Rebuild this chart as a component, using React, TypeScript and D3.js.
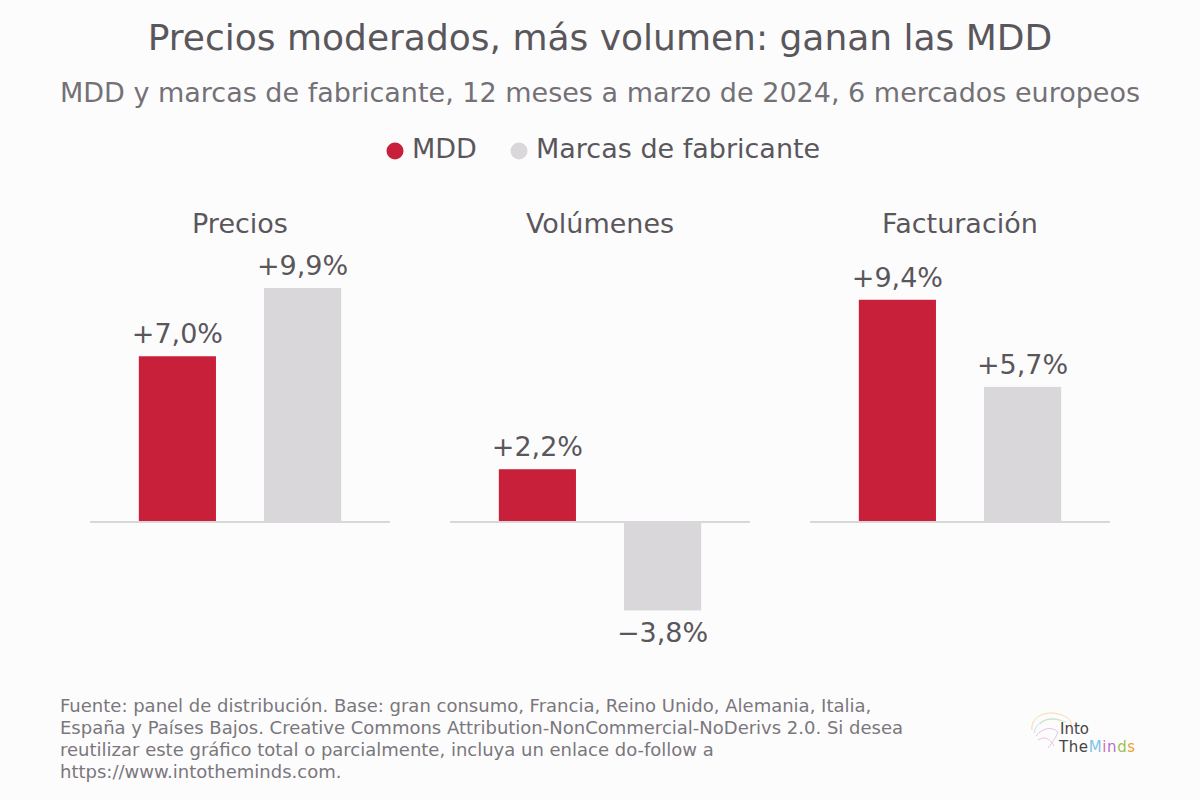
import React from "react";
import * as d3 from "d3";

const panels = ["Precios", "Volúmenes", "Facturación"];
const seriesNames = ["MDD", "Marcas de fabricante"];
const mddValues = [7.0, 2.2, 9.4];
const brandValues = [9.9, -3.8, 5.7];
const valueLabels = [
  ["+7,0%", "+9,9%"],
  ["+2,2%", "−3,8%"],
  ["+9,4%", "+5,7%"],
];
const footerLines = [
  "Fuente: panel de distribución. Base: gran consumo, Francia, Reino Unido, Alemania, Italia,",
  "España y Países Bajos. Creative Commons Attribution-NonCommercial-NoDerivs 2.0. Si desea",
  "reutilizar este gráfico total o parcialmente, incluya un enlace do-follow a",
  "https://www.intotheminds.com.",
];

const W = 1200;
const H = 800;
const FONT = "'DejaVu Sans', sans-serif";
const TEXT = "#5a575c";
const RED = "#c8203a";
const GREY = "#d9d7da";

export default function App() {
  const panelX = d3.scaleBand<string>().domain(panels).range([90, 1110]).paddingInner(1 / 6).paddingOuter(0);
  const y = d3.scaleLinear().domain([0, 9.9]).range([521, 288]);
  const colors = [RED, GREY];

  return (
    <svg width={W} height={H} style={{ position: "absolute", left: 0, top: 0, background: "#fdfcfd" }} fontFamily={FONT}>
      <rect x={0} y={0} width={W} height={H} fill="#fdfcfd" />
      <text x={600} y={50} textAnchor="middle" fontSize={36} fill={TEXT}>
        Precios moderados, más volumen: ganan las MDD
      </text>
      <text x={600} y={102} textAnchor="middle" fontSize={27} fill="#747176">
        MDD y marcas de fabricante, 12 meses a marzo de 2024, 6 mercados europeos
      </text>
      {/* legend */}
      <g>
        <circle cx={395} cy={151} r={8.5} fill={RED} />
        <text x={412} y={158} fontSize={27} fill={TEXT}>{seriesNames[0]}</text>
        <circle cx={519} cy={151} r={8.5} fill={GREY} />
        <text x={536} y={158} fontSize={27} fill={TEXT}>{seriesNames[1]}</text>
      </g>
      {panels.map((p, i) => {
        const x0 = panelX(p) as number;
        const bw = panelX.bandwidth();
        const inner = d3.scaleBand<string>().domain(seriesNames).range([x0, x0 + bw]).paddingInner(0.384).paddingOuter(0.39);
        const vals = [mddValues[i], brandValues[i]];
        return (
          <g key={p}>
            <text x={x0 + bw / 2} y={233} textAnchor="middle" fontSize={27} fill={TEXT}>{p}</text>
            {vals.map((v, j) => {
              const bx = inner(seriesNames[j]) as number;
              const top = y(Math.max(0, v));
              const bottom = y(Math.min(0, v));
              return (
                <g key={j}>
                  <rect x={bx} y={top} width={inner.bandwidth()} height={bottom - top} fill={colors[j]} />
                  <text
                    x={bx + inner.bandwidth() / 2}
                    y={v >= 0 ? top - 13 : bottom + 32}
                    textAnchor="middle"
                    fontSize={27}
                    fill={TEXT}
                  >
                    {valueLabels[i][j]}
                  </text>
                </g>
              );
            })}
            <line x1={x0} x2={x0 + bw} y1={y(0) + 1} y2={y(0) + 1} stroke={GREY} strokeWidth={2} />
          </g>
        );
      })}
      {footerLines.map((l, i) => (
        <text key={i} x={60} y={712 + i * 22} fontSize={18} fill="#7a777c">{l}</text>
      ))}
      {/* logo */}
      <g>
        <g fill="none" strokeWidth={1} opacity={0.6}>
          <path d="M1032,730 C1030,718 1045,710 1058,714 C1068,716 1074,722 1070,728" stroke="#f3c26b" />
          <path d="M1034,733 C1036,722 1048,716 1060,720" stroke="#9ecbe8" />
          <path d="M1036,736 C1042,728 1052,726 1058,732 C1055,740 1050,745 1048,748" stroke="#d7a2d6" />
          <path d="M1040,724 C1046,718 1054,718 1066,722" stroke="#b8d98a" />
          <path d="M1038,740 C1044,736 1050,738 1054,746" stroke="#e8a0b8" />
        </g>
        <text x={1060} y={734} fontSize={15} fill="#444">Into</text>
        <text x={1059} y={752} fontSize={15} letterSpacing={0.6} fill="#444">
          The<tspan fill="#7fc3e8">M</tspan><tspan fill="#e06aa8">i</tspan><tspan fill="#b16fc9">n</tspan><tspan fill="#9cc34a">d</tspan><tspan fill="#f0a030">s</tspan>
        </text>
      </g>
    </svg>
  );
}
